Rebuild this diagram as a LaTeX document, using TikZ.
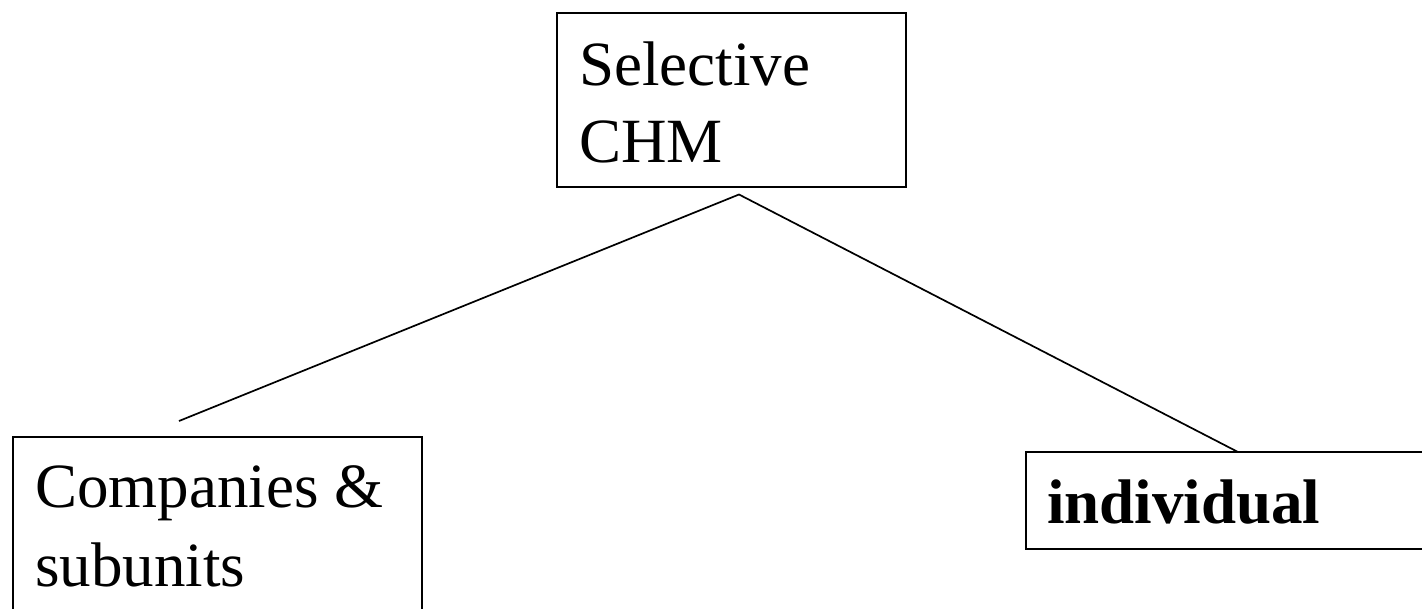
\documentclass[tikz,border=0pt]{standalone}
\usepackage{fontspec}
\setmainfont{Liberation Serif}
\begin{document}
\begin{tikzpicture}[x=1pt,y=-1pt,
  boxstyle/.style={draw=black,line width=2pt,inner sep=0pt,rectangle},
  lbl/.style={anchor=base west,inner sep=0pt,font=\fontsize{63}{78}\selectfont},
  conn/.style={draw=black,line width=1.7pt}]
\useasboundingbox (0,0) rectangle (1422,608);
% boxes
\node[boxstyle,minimum width=349pt,minimum height=174pt] (top) at (731.5,100) {};
\node[boxstyle,minimum width=408.5pt,minimum height=200pt] (left) at (217.25,537) {};
\node[boxstyle,minimum width=404pt,minimum height=97pt] (right) at (1228,500.5) {};
% texts
\node[lbl] (t1) at (579,85) {Selective};
\node[lbl] (t2) at (579,162) {CHM};
\node[lbl] (l1) at (35,507) {Companies \&};
\node[lbl] (l2) at (35,586) {subunits};
\node[lbl] (r1) at (1047,523) {\bfseries individual};
% connectors
\coordinate (apex) at (739,194.5);
\coordinate (lend) at (179,421);
\coordinate (rend) at (1238,452);
\draw[conn] (lend) -- (apex) -- (rend);
\end{tikzpicture}
\end{document}
